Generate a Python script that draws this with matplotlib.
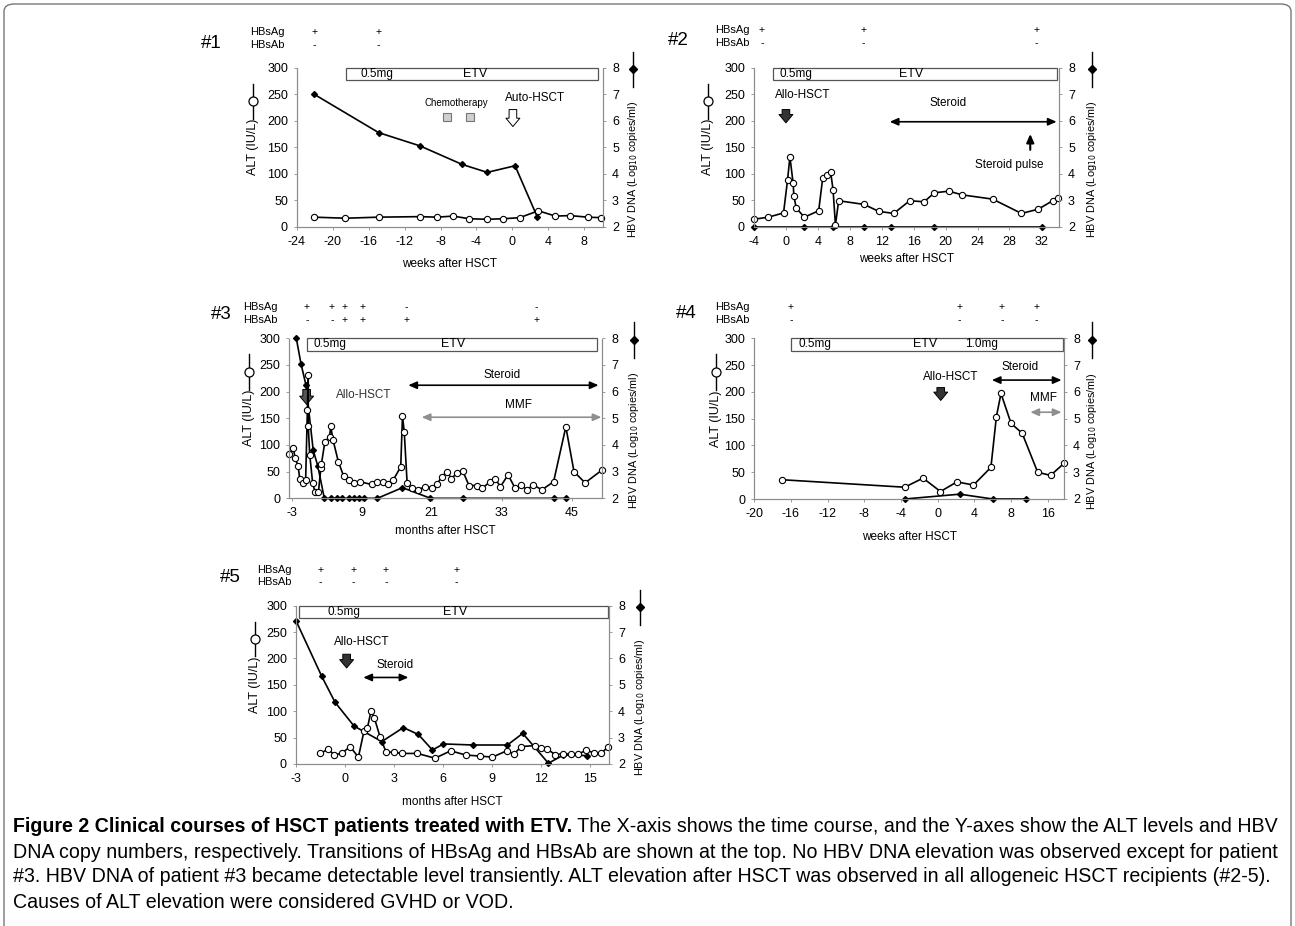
import matplotlib
matplotlib.use("Agg")
import matplotlib.pyplot as plt
from matplotlib.patches import Rectangle, FancyBboxPatch
from matplotlib.transforms import blended_transform_factory

# ---- patient #1 (weeks after HSCT)
p1_alt_wk = [-22.1, -18.6, -14.9, -10.3, -8.4, -6.6, -4.8, -2.8, -1.0, 0.8, 2.9, 4.8, 6.4, 8.4, 9.9]
p1_alt = [18, 16, 18, 19, 18, 20, 15, 14, 15, 17, 30, 20, 21, 18, 17]
p1_dna_wk = [-22.1, -14.9, -10.3, -5.6, -2.8, 0.3, 2.8]
p1_dna = [7.0, 5.55, 5.05, 4.35, 4.05, 4.3, 2.35]
p1_hbs_wk = [-22.1, -14.9]
p1_hbsag = ['+', '+']
p1_hbsab = ['-', '-']
p1_xticks = [-24, -20, -16, -12, -8, -4, 0, 4, 8]

# ---- patient #2 (weeks after HSCT)
p2_alt_wk = [-4.0, -2.2, -0.3, 0.2, 0.5, 0.9, 1.0, 1.3, 2.3, 4.1, 4.6, 5.2, 5.6, 5.9, 6.2, 6.6,
             9.8, 11.6, 13.5, 15.5, 17.3, 18.6, 20.4, 22.1, 25.9, 29.5, 31.6, 33.4, 34.1]
p2_alt = [14, 18, 26, 88, 132, 82, 57, 35, 18, 30, 91, 98, 103, 70, 3, 49,
          42, 29, 25, 49, 47, 64, 67, 60, 52, 25, 33, 49, 54]
p2_dna_wk = [-4.0, 2.3, 5.9, 9.8, 13.2, 18.6, 32.1]
p2_dna = [2.0, 2.0, 2.0, 2.0, 2.0, 2.0, 2.0]
p2_hbs_wk = [-3.0, 9.7, 31.4]
p2_hbsag = ['+', '+', '+']
p2_hbsab = ['-', '-', '-']
p2_xticks = [-4, 0, 4, 8, 12, 16, 20, 24, 28, 32]

# ---- patient #3 (months after HSCT)
p3_alt_mo = [-3.4, -2.7, -2.4, -1.9, -1.6, -1.0, -0.6, -0.3, -0.15, -0.15, 0.1, 0.6, 1.0, 1.6, 2.0,
             2.1, 2.7, 3.5, 3.7, 4.1, 5.0, 5.9, 6.9, 7.7, 8.7, 10.7, 11.7, 12.6, 13.6, 14.4,
             15.7, 16.0, 16.3, 16.8, 17.6, 18.7, 19.9, 21.0, 21.9, 22.7, 23.6, 24.4, 25.3, 26.3, 27.4,
             28.7, 29.7, 31.0, 31.9, 32.8, 34.1, 35.3, 36.4, 37.3, 38.4, 39.9, 41.9, 44.0, 45.4, 47.3, 50.2]
p3_alt = [84, 94, 75, 61, 36, 28, 34, 166, 231, 135, 82, 29, 12, 12, 56,
          64, 106, 115, 135, 109, 69, 42, 35, 29, 31, 26, 30, 30, 26, 34,
          59, 154, 125, 28, 20, 16, 22, 20, 26, 40, 50, 37, 47, 52, 24,
          24, 19, 31, 36, 22, 44, 19, 25, 16, 25, 16, 31, 134, 50, 29, 53]
p3_dna_mo = [-2.2, -1.4, -0.55, 0.7, 1.5, 2.6, 3.7, 4.7, 5.6, 6.9, 7.7, 8.6, 9.4, 11.7, 16.0, 20.8, 26.4, 41.9, 44.0]
p3_dna = [8.0, 7.05, 6.25, 3.8, 3.2, 2.0, 2.0, 2.0, 2.0, 2.0, 2.0, 2.0, 2.0, 2.0, 2.4, 2.0, 2.0, 2.0, 2.0]
p3_hbs_mo = [-0.4, 3.9, 6.0, 9.1, 16.7, 39.0]
p3_hbsag = ['+', '+', '+', '+', '-', '-']
p3_hbsab = ['-', '-', '+', '+', '+', '+']
p3_xticks = [-3, 9, 21, 33, 45]

# ---- patient #4 (weeks after HSCT)
p4_alt_wk = [-17.0, -3.6, -1.6, 0.3, 2.1, 3.9, 5.8, 6.4, 6.9, 8.0, 9.2, 10.9, 12.3, 13.8]
p4_alt = [36, 22, 39, 14, 32, 26, 59, 154, 197, 141, 123, 50, 44, 67]
p4_dna_wk = [-3.6, 2.4, 6.0, 9.6]
p4_dna = [2.0, 2.18, 2.0, 2.0]
p4_hbs_wk = [-16.0, 2.4, 7.0, 10.8]
p4_hbsag = ['+', '+', '+', '+']
p4_hbsab = ['-', '-', '-', '-']
p4_xticks = [-20, -16, -12, -8, -4, 0, 4, 8, 12]
p4_xticklabels = ['-20', '-16', '-12', '-8', '-4', '0', '4', '8', '16']

# ---- patient #5 (months after HSCT)
p5_alt_mo = [-1.53, -1.02, -0.65, -0.16, 0.31, 0.82, 1.16, 1.37, 1.59, 1.8, 2.14, 2.51, 3.02, 3.5, 4.43,
             5.51, 6.47, 7.39, 8.27, 9.02, 9.9, 10.35, 10.78, 11.64, 12.0, 12.39, 12.86, 13.33, 13.84, 14.29,
             14.76, 15.25, 15.68, 16.12]
p5_alt = [20, 28, 17, 21, 33, 13, 62, 68, 100, 87, 52, 23, 22, 20, 20,
          11, 25, 17, 15, 13, 25, 19, 33, 35, 31, 28, 18, 19, 19, 19,
          26, 21, 20, 33]
p5_dna_mo = [-3.0, -1.43, -0.61, 0.55, 2.25, 3.57, 4.49, 5.35, 6.02, 7.86, 9.94, 10.88, 12.45, 13.37, 14.8]
p5_dna = [7.43, 5.33, 4.34, 3.44, 2.85, 3.38, 3.12, 2.53, 2.76, 2.72, 2.72, 3.16, 2.03, 2.34, 2.32]
p5_hbs_mo = [-1.5, 0.5, 2.5, 6.8]
p5_hbsag = ['+', '+', '+', '+']
p5_hbsab = ['-', '-', '-', '-']
p5_xticks = [-3, 0, 3, 6, 9, 12, 15]

cap_bold = "Figure 2 Clinical courses of HSCT patients treated with ETV."
cap_lines = [
    " The X-axis shows the time course, and the Y-axes show the ALT levels and HBV",
    "DNA copy numbers, respectively. Transitions of HBsAg and HBsAb are shown at the top. No HBV DNA elevation was observed except for patient",
    "#3. HBV DNA of patient #3 became detectable level transiently. ALT elevation after HSCT was observed in all allogeneic HSCT recipients (#2-5).",
    "Causes of ALT elevation were considered GVHD or VOD.",
]

plt.rcParams['font.family'] = ['Liberation Sans', 'DejaVu Sans']

W, H = 1295, 926
fig = plt.figure(figsize=(W / 100, H / 100), dpi=100)
GRAY = '#8c8c8c'


def px_rect(left, top, right, bottom):
    return [left / W, 1 - bottom / H, (right - left) / W, (bottom - top) / H]


def make_panel(box, xlim, xticks, xticklabels, xlabel, ylab_x, y2lab_x, xlab_off):
    ax = fig.add_axes(px_rect(*box))
    ax2 = ax.twinx()
    ax.set_xlim(xlim)
    ax.set_ylim(0, 300)
    ax2.set_ylim(2, 8)
    ax.set_xticks(xticks)
    ax.set_xticklabels(xticklabels)
    ax.set_yticks(range(0, 301, 50))
    ax2.set_yticks(range(2, 9))
    for a in (ax, ax2):
        a.spines['top'].set_visible(False)
        for s in ('left', 'right', 'bottom'):
            a.spines[s].set_color(GRAY)
            a.spines[s].set_linewidth(0.8)
            a.spines[s].set_linestyle((0, (2, 1)))
        a.tick_params(length=2.5, width=0.6, color=GRAY, labelsize=9, pad=4)
    ax.set_xlabel(xlabel, fontsize=8.5)
    ax.xaxis.set_label_coords(0.5, -xlab_off)

    # left label: ALT with open-circle key above it
    ax.text(ylab_x, 0.5, 'ALT (IU/L)', rotation=90, transform=ax.transAxes,
            ha='center', va='center', fontsize=9)
    ax.plot([ylab_x, ylab_x], [0.68, 0.9], transform=ax.transAxes, color='k', lw=1.0, clip_on=False)
    ax.plot([ylab_x], [0.79], transform=ax.transAxes, marker='o', ms=6.5, mfc='white', mec='k',
            mew=0.9, clip_on=False)
    # right label: HBV DNA with filled-diamond key above it
    ax.text(y2lab_x, 0.36, 'HBV DNA (Log$_{10}$ copies/ml)', rotation=90, transform=ax.transAxes,
            ha='center', va='center', fontsize=7.8)
    ax.plot([y2lab_x, y2lab_x], [0.88, 1.1], transform=ax.transAxes, color='k', lw=1.0, clip_on=False)
    ax.plot([y2lab_x], [0.99], transform=ax.transAxes, marker='D', ms=4.5, mfc='k', mec='k',
            clip_on=False)
    return ax, ax2


def plot_series(ax, ax2, alt_x, alt_y, dna_x, dna_y):
    ax.plot(dna_x, dna_y, transform=ax2.transData, color='k', lw=1.2, marker='D', ms=3,
            zorder=3, clip_on=False)
    ax.plot(alt_x, alt_y, color='k', lw=1.2, marker='o', ms=4.5, mfc='white', mec='k',
            mew=0.8, zorder=4, clip_on=False)


def header(ax, tag, xs, ag, ab, y_ag, y_ab, lbl_x, tag_x, tag_y):
    tr = blended_transform_factory(ax.transData, ax.transAxes)
    for x, a, b in zip(xs, ag, ab):
        ax.text(x, y_ag, a, transform=tr, ha='center', va='center', fontsize=7.5)
        ax.text(x, y_ab, b, transform=tr, ha='center', va='center', fontsize=7.5)
    ax.text(lbl_x, y_ag, 'HBsAg', transform=ax.transAxes, ha='left', va='center', fontsize=8)
    ax.text(lbl_x, y_ab, 'HBsAb', transform=ax.transAxes, ha='left', va='center', fontsize=8)
    ax.text(tag_x, tag_y, tag, transform=ax.transAxes, ha='center', va='center', fontsize=13.5)


def etv_box(ax, x0, x1, dose_x, etv_x, extra=None):
    ax.add_patch(Rectangle((x0, 277), x1 - x0, 23, facecolor='white', edgecolor='#555555',
                           lw=0.9, clip_on=False, zorder=2))
    ax.text(dose_x, 288.5, '0.5mg', ha='left', va='center', fontsize=8.5, zorder=5)
    ax.text(etv_x, 288.5, 'ETV', ha='center', va='center', fontsize=9, zorder=5)
    if extra is not None:
        ax.text(extra[0], 288.5, extra[1], ha='center', va='center', fontsize=8.5, zorder=5)


def span_arrow(ax, x0, x1, y, color='k'):
    ax.annotate('', xy=(x1, y), xytext=(x0, y), annotation_clip=False,
                arrowprops=dict(arrowstyle='<|-|>,head_length=0.5,head_width=0.22', color=color,
                                lw=1.2, shrinkA=0, shrinkB=0))


def block_arrow(ax, x, y0, y1, fc):
    ax.annotate('', xy=(x, y1), xytext=(x, y0), annotation_clip=False,
                arrowprops=dict(arrowstyle='simple,head_width=1.0,head_length=0.6,tail_width=0.55',
                                fc=fc, ec='k', lw=0.7, shrinkA=0, shrinkB=0))


# ---- panel #1
ax, ax2 = make_panel((297, 67.7, 603, 226.7), (-24, 10.1), p1_xticks, [str(t) for t in p1_xticks],
                     'weeks after HSCT', -0.143, 1.098, 0.2)
plot_series(ax, ax2, p1_alt_wk, p1_alt, p1_dna_wk, p1_dna)
header(ax, '#1', p1_hbs_wk, p1_hbsag, p1_hbsab, 1.226, 1.143, -0.154, -0.279, 1.153)
etv_box(ax, -18.5, 9.5, -16.9, -4.2)
ax.text(-6.3, 234, 'Chemotherapy', ha='center', va='center', fontsize=7)
ax.plot([-7.3, -4.7], [207, 207], ls='none', marker='s', ms=6, mfc='#cfcfcf', mec='#777777', mew=0.8)
ax.text(2.5, 242, 'Auto-HSCT', ha='center', va='center', fontsize=8.5)
block_arrow(ax, 0.06, 221, 189, 'white')

# ---- panel #2
ax, ax2 = make_panel((754, 67.7, 1059, 226.7), (-4, 34.2), p2_xticks, [str(t) for t in p2_xticks],
                     'weeks after HSCT', -0.151, 1.107, 0.165)
plot_series(ax, ax2, p2_alt_wk, p2_alt, p2_dna_wk, p2_dna)
header(ax, '#2', p2_hbs_wk, p2_hbsag, p2_hbsab, 1.237, 1.155, -0.128, -0.249, 1.174)
etv_box(ax, -1.6, 33.9, -0.75, 15.7)
ax.text(2.1, 248, 'Allo-HSCT', ha='center', va='center', fontsize=8.5)
block_arrow(ax, 0.0, 221, 196, '#333333')
span_arrow(ax, 13.0, 33.9, 198)
ax.text(20.3, 233, 'Steroid', ha='center', va='center', fontsize=8.5)
ax.annotate('', xy=(30.6, 175), xytext=(30.6, 145), annotation_clip=False,
            arrowprops=dict(arrowstyle='-|>,head_length=0.5,head_width=0.22', color='k', lw=1.5,
                            shrinkA=0, shrinkB=0))
ax.text(28.0, 116, 'Steroid pulse', ha='center', va='center', fontsize=8.5)

# ---- panel #3
ax, ax2 = make_panel((289.3, 338.3, 602.3, 498.3), (-3.4, 50.25), p3_xticks, [str(t) for t in p3_xticks],
                     'months after HSCT', -0.13, 1.101, 0.17)
plot_series(ax, ax2, p3_alt_mo, p3_alt, p3_dna_mo, p3_dna)
header(ax, '#3', p3_hbs_mo, p3_hbsag, p3_hbsab, 1.196, 1.114, -0.148, -0.216, 1.146)
etv_box(ax, -0.43, 49.4, 0.7, 24.7)
ax.text(9.3, 194, 'Allo-HSCT', ha='center', va='center', fontsize=8.5, color='#333333')
block_arrow(ax, -0.43, 204, 176, '#555555')
span_arrow(ax, 17.0, 49.6, 212)
ax.text(33.0, 231, 'Steroid', ha='center', va='center', fontsize=8.5)
span_arrow(ax, 19.3, 50.1, 152, color='#8f8f8f')
ax.text(35.9, 175, 'MMF', ha='center', va='center', fontsize=8.5)

# ---- panel #4
ax, ax2 = make_panel((754.3, 338.3, 1064, 499), (-20, 13.77), p4_xticks, p4_xticklabels,
                     'weeks after HSCT', -0.125, 1.09, 0.2)
plot_series(ax, ax2, p4_alt_wk, p4_alt, p4_dna_wk, p4_dna)
header(ax, '#4', p4_hbs_wk, p4_hbsag, p4_hbsab, 1.195, 1.114, -0.127, -0.218, 1.157)
etv_box(ax, -16.0, 13.7, -15.2, -1.38, extra=(4.8, '1.0mg'))
ax.text(1.45, 228, 'Allo-HSCT', ha='center', va='center', fontsize=8.5)
block_arrow(ax, 0.33, 208, 184, '#333333')
span_arrow(ax, 5.9, 13.5, 222)
ax.text(9.0, 247, 'Steroid', ha='center', va='center', fontsize=8.5)
span_arrow(ax, 10.1, 13.5, 162, color='#8f8f8f')
ax.text(11.5, 189, 'MMF', ha='center', va='center', fontsize=8.5)

# ---- panel #5
ax, ax2 = make_panel((296, 605.7, 609, 764), (-3, 16.16), p5_xticks, [str(t) for t in p5_xticks],
                     'months after HSCT', -0.13, 1.1, 0.2)
plot_series(ax, ax2, p5_alt_mo, p5_alt, p5_dna_mo, p5_dna)
header(ax, '#5', p5_hbs_mo, p5_hbsag, p5_hbsab, 1.226, 1.15, -0.125, -0.211, 1.175)
etv_box(ax, -2.8, 16.1, -1.08, 6.74)
ax.text(1.0, 232, 'Allo-HSCT', ha='center', va='center', fontsize=8.5)
block_arrow(ax, 0.1, 208, 182, '#333333')
span_arrow(ax, 1.12, 3.88, 164)
ax.text(3.06, 187, 'Steroid', ha='center', va='center', fontsize=8.5)

# ---- frame and caption
fig.patches.append(FancyBboxPatch((4 / W, -0.05), 1287 / W, 1.05 - 4 / H,
                                  boxstyle='round,pad=0,rounding_size=0.008',
                                  transform=fig.transFigure, fill=False, ec='#777777', lw=1.0))

cap_font = ['Liberation Sans', 'DejaVu Sans']
renderer = fig.canvas.get_renderer()
cap_y = [826, 852, 877, 902]
tb = fig.text(13 / W, 1 - cap_y[0] / H, cap_bold, fontsize=14, weight='bold', family=cap_font, va='center')
tr1 = fig.text(0.5, 1 - cap_y[0] / H, cap_lines[0], fontsize=14, family=cap_font, va='center')
total = tb.get_window_extent(renderer).width + tr1.get_window_extent(renderer).width
size = 14 * 1268 / total
tb.set_fontsize(size)
tr1.set_fontsize(size)
tr1.set_x((13 + tb.get_window_extent(renderer).width) / W)
for line, y in zip(cap_lines[1:], cap_y[1:]):
    fig.text(13 / W, 1 - y / H, line, fontsize=size, family=cap_font, va='center')

fig.savefig('out.png', dpi=100)
